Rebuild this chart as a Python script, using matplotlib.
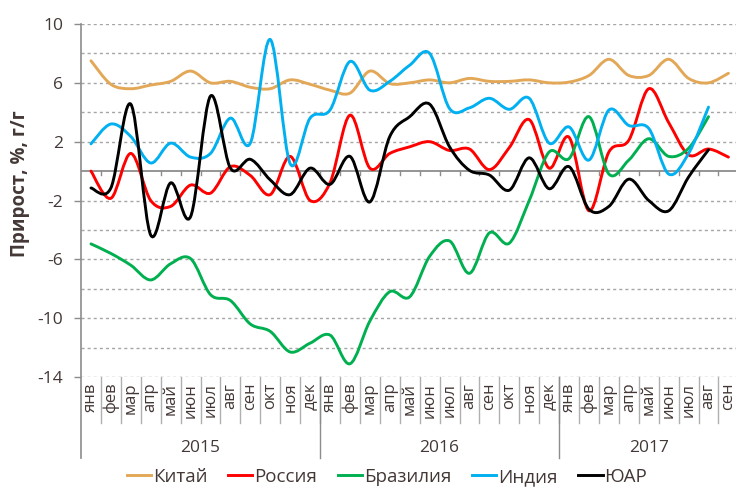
import matplotlib
matplotlib.use("Agg")
import matplotlib.pyplot as plt
from matplotlib.path import Path
from matplotlib.patches import PathPatch
from matplotlib.lines import Line2D
import numpy as np

plt.rcParams['font.family'] = ['Open Sans', 'DejaVu Sans']
plt.rcParams['axes.unicode_minus'] = False

months = ["янв", "фев", "мар", "апр", "май", "июн", "июл", "авг", "сен", "окт", "ноя", "дек"] * 2 + \
         ["янв", "фев", "мар", "апр", "май", "июн", "июл", "авг", "сен"]
years = ["2015", "2016", "2017"]
year_lengths = [12, 12, 9]

china = [7.5, 5.9, 5.6, 5.85, 6.1, 6.8, 6.0, 6.1, 5.7, 5.6, 6.2, 5.9,
         5.5, 5.3, 6.8, 5.95, 6.0, 6.2, 6.0, 6.3, 6.1, 6.1, 6.2, 6.0,
         6.05, 6.5, 7.6, 6.5, 6.5, 7.6, 6.3, 6.0, 6.65]
russia = [0.0, -1.85, 1.2, -2.0, -2.4, -0.95, -1.5, 0.3, -0.3, -1.6, 1.0, -2.0,
          -0.8, 3.8, 0.2, 1.2, 1.65, 2.0, 1.4, 1.5, 0.1, 1.6, 3.5, 0.2,
          2.3, -2.7, 1.3, 2.1, 5.6, 3.3, 1.1, 1.5, 0.95]
brazil = [-4.95, -5.6, -6.4, -7.4, -6.3, -5.95, -8.4, -8.8, -10.4, -10.9, -12.3, -11.7,
          -11.15, -13.1, -10.2, -8.2, -8.55, -5.8, -4.75, -6.95, -4.2, -4.9, -2.0, 1.3,
          0.85, 3.7, -0.2, 0.75, 2.2, 1.0, 1.55, 3.7]
india = [1.85, 3.2, 2.35, 0.55, 1.9, 0.95, 1.2, 3.6, 1.9, 8.95, 0.5, 3.6,
         4.15, 7.45, 5.5, 6.1, 7.2, 8.0, 4.25, 4.3, 4.95, 4.2, 4.95, 1.9,
         3.0, 0.75, 4.15, 3.1, 2.9, -0.2, 1.2, 4.35]
sa = [-1.15, -1.15, 4.55, -4.35, -0.8, -3.1, 5.1, 0.2, 0.8, -0.6, -1.6, 0.2,
      -0.9, 1.0, -2.1, 2.35, 3.7, 4.55, 1.65, 0.05, -0.27, -1.3, 0.9, -1.2,
      0.3, -2.6, -2.4, -0.55, -2.0, -2.7, -0.4, 1.45]

series = [("Китай", china, "#E3A857"),
          ("Россия", russia, "#FF0000"),
          ("Бразилия", brazil, "#00B050"),
          ("Индия", india, "#00B0F0"),
          ("ЮАР", sa, "#000000")]

TXT = "#433836"
GRID = "#A6A6A6"
AX = "#8C8C8C"


def smooth_path(x, y):
    x = np.asarray(x, float)
    y = np.asarray(y, float)
    n = len(x)
    verts = [(x[0], y[0])]
    codes = [Path.MOVETO]
    for i in range(n - 1):
        xm, ym = (x[i - 1], y[i - 1]) if i > 0 else (x[i], y[i])
        xp, yp = (x[i + 2], y[i + 2]) if i + 2 < n else (x[i + 1], y[i + 1])
        c1 = (x[i] + (x[i + 1] - xm) / 6.0, y[i] + (y[i + 1] - ym) / 6.0)
        c2 = (x[i + 1] - (xp - x[i]) / 6.0, y[i + 1] - (yp - y[i]) / 6.0)
        verts += [c1, c2, (x[i + 1], y[i + 1])]
        codes += [Path.CURVE4] * 3
    return Path(verts, codes)


fig = plt.figure(figsize=(7.36, 4.88), dpi=100)
ax = fig.add_axes([81 / 736, 1 - 377 / 488, 657.4 / 736, 353 / 488])
ax.set_xlim(-0.5, len(months) - 0.5)
ax.set_ylim(-14, 10)

for s in ax.spines.values():
    s.set_visible(False)

# gridlines
for v in range(-14, 11, 2):
    if v == 0:
        continue
    ax.axhline(v, color=GRID, lw=1.0, ls=(0, (2.2, 2.2)), zorder=1)
ax.axhline(0, color=AX, lw=1.3, zorder=2)
# ticks on zero line
for k in range(len(months)):
    ax.plot([k + 0.5, k + 0.5], [0, -0.3], color=AX, lw=1.0, zorder=2)

handles = []
for name, vals, col in series:
    xs = np.arange(len(vals))
    p = PathPatch(smooth_path(xs, vals), facecolor='none', edgecolor=col, lw=2.1,
                  capstyle='round', joinstyle='round', zorder=3)
    ax.add_patch(p)
    handles.append(Line2D([0], [0], color=col, lw=2.1))

ax.set_yticks(range(-14, 11, 4))
ax.tick_params(axis='y', length=5, width=1, color=AX, pad=8, labelsize=12.5, labelcolor=TXT)
ax.set_xticks([])

trans = ax.get_xaxis_transform()
# left axis line
ax.plot([-0.5, -0.5], [1.0, -0.2295], transform=trans, color=AX, lw=1.2, clip_on=False, zorder=2)
# month separators and labels
for k in range(len(months)):
    if k > 0:
        ax.plot([k - 0.5, k - 0.5], [0, -0.130], transform=trans, color="#B0B0B0", lw=1.0, clip_on=False)
    ax.text(k, -0.016, months[k], transform=trans, rotation=90, ha='center', va='top',
            fontsize=12, color=TXT)
start = 0
for yname, ln in zip(years, year_lengths):
    if start > 0:
        ax.plot([start - 0.5, start - 0.5], [0, -0.2295], transform=trans, color=AX, lw=1.0, clip_on=False)
    ax.text(start + (ln - 1) / 2.0, -0.200, yname, transform=trans, ha='center', va='center',
            fontsize=12.5, color=TXT)
    start += ln

fig.text(20 / 736, 1 - 184 / 488, "Прирост, %, г/г", rotation=90, ha='center', va='center',
         fontsize=13.5, fontweight='bold', color=TXT)

fig.legend(handles, [s[0] for s in series], loc='center', bbox_to_anchor=(387 / 736, 1 - 477 / 488),
           ncol=5, frameon=False, fontsize=13.5, handlelength=1.3, handletextpad=0.1,
           columnspacing=1.1, labelcolor=TXT, borderpad=0)

fig.savefig("out.png", dpi=100)
